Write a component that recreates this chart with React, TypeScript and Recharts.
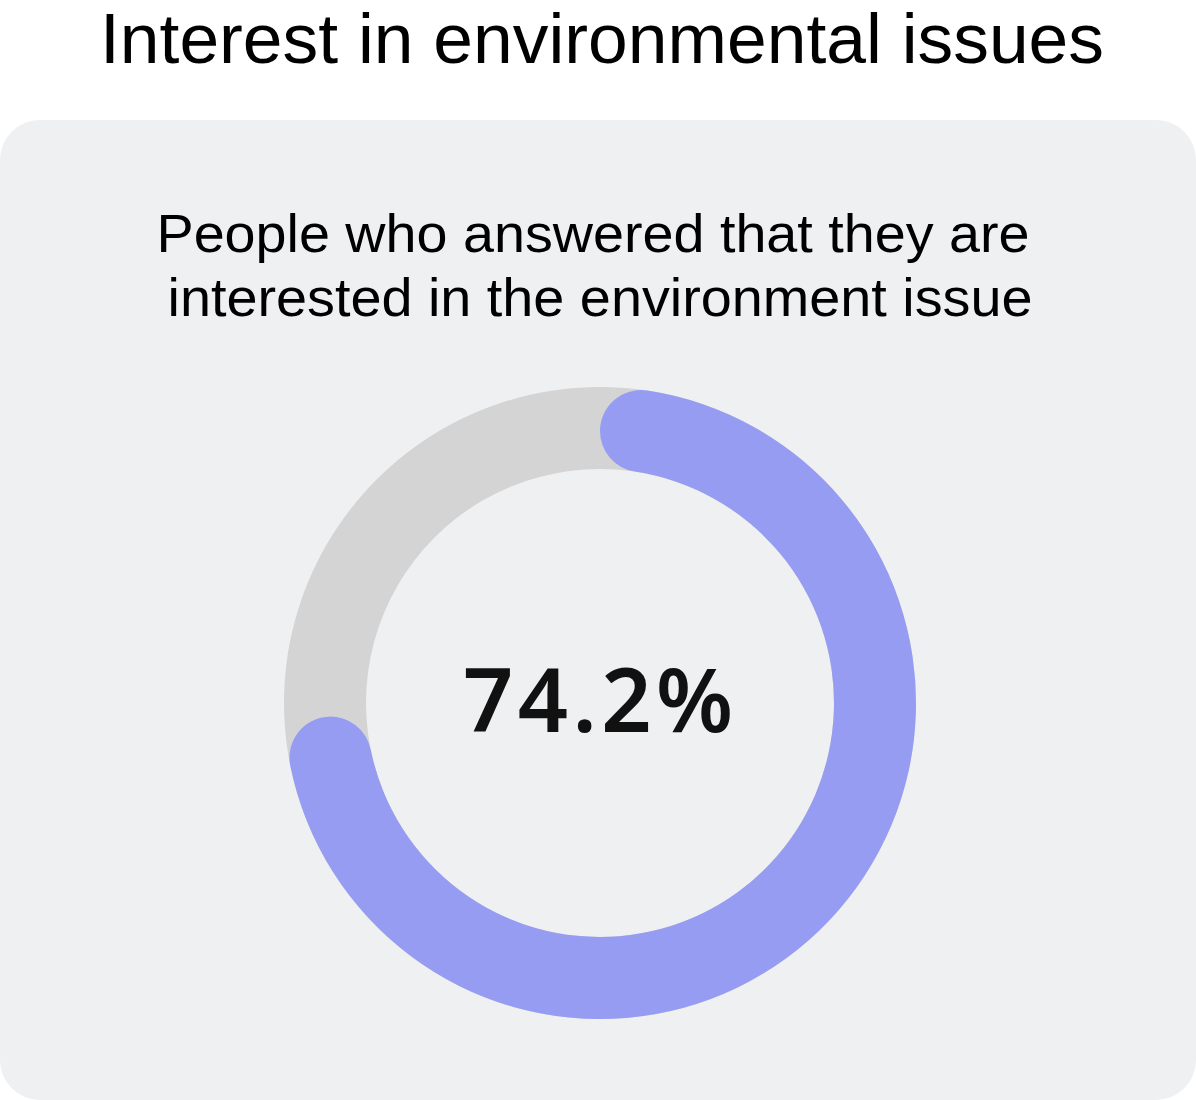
import React from 'react';
import { PieChart, Pie, Cell } from 'recharts';

const title = 'Interest in environmental issues';
const subtitleLines = ['People who answered that they are', 'interested in the environment issue'];

const shares = [
    { name: 'Interested', value: 74.2 },
    { name: 'Other', value: 25.8 },
];
const track = [{ name: 'All', value: 100 }];
const shareColors = ['#959cf2', 'none'];

const sans = '"Liberation Sans", Arial, sans-serif';

const App: React.FC = () => {
    return (
        <div style={{ position: 'absolute', left: 0, top: 0, width: 1196, height: 1100, background: '#fff' }}>
            <div
                style={{
                    position: 'absolute',
                    left: 0,
                    top: 120,
                    width: 1196,
                    height: 980,
                    borderRadius: 40,
                    background: '#eff0f2',
                }}
            />
            <div style={{ position: 'absolute', left: 0, top: 0 }}>
                <PieChart width={1196} height={1100} margin={{ top: 0, right: 0, bottom: 0, left: 0 }}>
                    <Pie
                        data={track}
                        dataKey="value"
                        cx={600}
                        cy={703}
                        innerRadius={234}
                        outerRadius={316}
                        startAngle={90}
                        endAngle={-270}
                        stroke="none"
                        fill="#d4d4d4"
                        isAnimationActive={false}
                    />
                    <Pie
                        data={shares}
                        dataKey="value"
                        cx={600}
                        cy={703}
                        innerRadius={234}
                        outerRadius={316}
                        startAngle={90}
                        endAngle={-270}
                        cornerRadius={41}
                        stroke="none"
                        isAnimationActive={false}
                    >
                        {shares.map((entry, index) => (
                            <Cell key={`cell-${index}`} fill={shareColors[index]} />
                        ))}
                    </Pie>
                </PieChart>
            </div>
            <svg width={1196} height={1100} style={{ position: 'absolute', left: 0, top: 0, pointerEvents: 'none' }}>
                <text
                    x={602}
                    y={63}
                    textAnchor="middle"
                    fontFamily={sans}
                    fontSize={70}
                    fill="#000"
                    textLength={1004}
                    lengthAdjust="spacingAndGlyphs"
                >
                    {title}
                </text>
                <text
                    x={593}
                    y={252}
                    textAnchor="middle"
                    fontFamily={sans}
                    fontSize={54}
                    fill="#000"
                    textLength={873}
                    lengthAdjust="spacingAndGlyphs"
                >
                    {subtitleLines[0]}
                </text>
                <text
                    x={600}
                    y={316}
                    textAnchor="middle"
                    fontFamily={sans}
                    fontSize={54}
                    fill="#000"
                    textLength={865}
                    lengthAdjust="spacingAndGlyphs"
                >
                    {subtitleLines[1]}
                </text>
                <text
                    x={598}
                    y={732}
                    textAnchor="middle"
                    fontFamily='"Noto Sans", "DejaVu Sans", sans-serif'
                    fontWeight={600}
                    fontSize={88}
                    fill="#111"
                    textLength={270}
                    lengthAdjust="spacing"
                >
                    {`${shares[0].value}%`}
                </text>
            </svg>
        </div>
    );
};

export default App;
